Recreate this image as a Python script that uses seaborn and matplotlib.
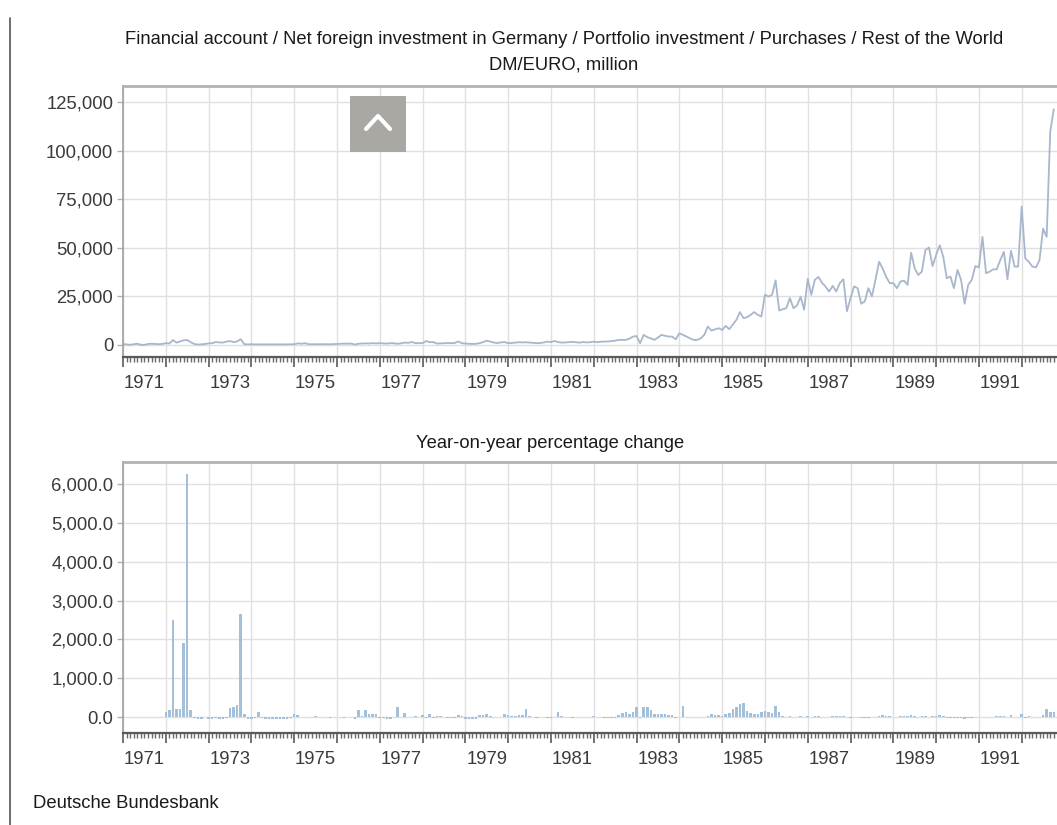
import numpy as np
import pandas as pd
import matplotlib
matplotlib.use("Agg")
import matplotlib.pyplot as plt
import seaborn as sns
from matplotlib.ticker import FuncFormatter, FixedLocator
from matplotlib.lines import Line2D
from matplotlib.patches import Rectangle

# ---------------- data ----------------
title_main = "Financial account / Net foreign investment in Germany / Portfolio investment / Purchases / Rest of the World"
title_unit = "DM/EURO, million"
title_yoy = "Year-on-year percentage change"
source_text = "Deutsche Bundesbank"

level_start_year = 1971   # monthly, from January
purchases = [
    400, 300, 50, 400, 600, 120, 35, 500, 600, 500, 400, 500,                  # 1971
    900, 750, 2500, 1200, 1800, 2400, 2500, 1400, 500, 200, 300, 500,          # 1972
    800, 900, 1500, 1300, 1200, 1700, 2000, 1500, 1800, 3000, 400, 300,        # 1973
    350, 300, 280, 300, 320, 300, 290, 310, 300, 280, 300, 320,                # 1974
    350, 800, 600, 900, 400, 350, 400, 350, 380, 400, 350, 400,                # 1975
    500, 600, 700, 650, 700, 200, 600, 750, 800, 750, 900, 800,                # 1976
    900, 800, 700, 900, 850, 600, 850, 1200, 1100, 1500, 900, 1000,            # 1977
    900, 2000, 1400, 1500, 700, 800, 900, 1000, 900, 1000, 1800, 900,          # 1978
    700, 600, 500, 600, 900, 1500, 2200, 1700, 1200, 1000, 1300, 1500,         # 1979
    900, 1000, 1200, 1400, 1300, 1400, 1200, 1100, 900, 1000, 1300, 1700,     # 1980
    1500, 2000, 1500, 1200, 1300, 1400, 1600, 1400, 1200, 1500, 1300, 1400,   # 1981
    1700, 1400, 1700, 1700, 1800, 2000, 2200, 2600, 2600, 2600, 3200, 4300,   # 1982
    4600, 900, 5200, 4000, 3400, 2600, 3800, 5200, 4700, 4300, 4300, 2900,    # 1983
    6000, 5200, 4300, 3400, 2600, 2600, 3400, 5200, 9500, 7400, 8000, 8600,   # 1984
    7700, 9800, 8100, 10500, 12900, 16900, 13800, 14300, 15500, 16900, 15500, 14600,  # 1985
    25800, 24900, 25800, 33200, 17700, 18400, 18900, 24100, 18900, 20300, 24800, 18100,  # 1986
    34000, 25800, 33500, 35000, 32000, 30000, 27500, 30400, 27500, 31800, 33800, 17300,  # 1987
    24100, 30100, 29200, 21200, 22400, 29200, 25000, 33500, 42800, 39400, 35000, 31800,  # 1988
    31800, 29200, 32600, 33100, 30900, 47400, 39400, 36000, 37700, 48800, 50100, 40600,  # 1989
    46200, 51300, 45400, 34300, 35200, 29200, 38600, 33500, 21200, 30900, 33500, 40600,  # 1990
    39900, 55600, 36900, 37700, 38900, 38900, 43700, 47900, 33800, 48400, 40300, 40300,  # 1991
    71200, 44500, 42800, 40300, 39900, 43700, 59800, 55600, 109700, 121200,              # 1992
]

yoy_start_year = 1972     # monthly, from January
yoy_pct = [
    130, 170, 2500, 200, 200, 1900, 6250, 180, -30, -60, -40, -10,     # 1972
    -40, -50, -30, -60, -40, -20, 220, 270, 300, 2650, 90, -40,        # 1973
    -50, -30, 120, -20, -40, -50, -60, -60, -60, -50, -40, -20,        # 1974
    80, 40, 10, 0, -10, 10, 20, 10, 0, -10, -20, -10,                  # 1975
    -10, 10, -20, 10, 0, -60, 170, 20, 170, 80, 80, 80,                # 1976
    -30, -20, -50, -40, -10, 270, 10, 110, 0, 10, 20, 10,              # 1977
    60, -20, 90, -30, 30, 20, 10, -20, -30, -20, 40, 20,               # 1978
    -40, -50, -50, -40, 40, 60, 70, 30, 10, 0, -10, 90,                # 1979
    40, 30, 30, 40, 60, 200, 30, 0, -20, -10, -10, -20,                # 1980
    -20, 10, 130, 20, 10, -10, -20, 0, 10, -10, 10, -10,               # 1981
    20, 10, -10, -20, -30, -30, -20, 40, 110, 130, 70, 130,            # 1982
    250, -30, 260, 270, 180, 70, 80, 90, 70, 60, 40, -20,              # 1983
    -10, 280, -5, -5, -10, -5, -5, 0, 20, 80, 60, 40,                  # 1984
    30, 70, 100, 200, 250, 330, 350, 150, 100, 90, 90, 140,            # 1985
    150, 140, 100, 280, 130, 20, 10, 30, -10, 10, 20, 10,              # 1986
    20, 0, 30, 20, 10, 10, 0, 20, 20, 30, 20, -10,                     # 1987
    -20, 10, -10, -30, -20, -20, -10, 10, 30, 60, 20, 30,              # 1988
    10, 0, 20, 30, 30, 40, 20, 10, 20, 30, 10, 20,                     # 1989
    30, 50, 30, -20, -20, -30, -20, -30, -40, -30, -20, -10,           # 1990
    -10, 10, -10, 10, 10, 30, 20, 20, 10, 40, 10, 10,                  # 1991
    70, -20, 20, 10, 0, 10, 40, 200, 140, 130,                         # 1992
]

year_labels = [1971, 1973, 1975, 1977, 1979, 1981, 1983, 1985, 1987, 1989, 1991]
level_ticks = [0, 25000, 50000, 75000, 100000, 125000]
yoy_ticks = [0, 1000, 2000, 3000, 4000, 5000, 6000]

# ---------------- frames ----------------
df_level = pd.DataFrame({
    "t": [level_start_year + i / 12 for i in range(len(purchases))],
    "value": purchases,
})
df_yoy = pd.DataFrame({
    "t": [yoy_start_year + i / 12 for i in range(len(yoy_pct))],
    "pct": yoy_pct,
})

# ---------------- style ----------------
sns.set_theme(style="white")
plt.rcParams["font.family"] = ["Liberation Sans", "DejaVu Sans"]

W, H = 1057, 825
fig = plt.figure(figsize=(W / 100, H / 100), dpi=100)

def fx(px):
    return px / W

def fy(py):
    return 1 - py / H

X0, X1 = 1971.0, 1992.825
ax1 = fig.add_axes([fx(123), fy(357), fx(1057) - fx(123), fy(86) - fy(357)])
ax2 = fig.add_axes([fx(123), fy(733), fx(1057) - fx(123), fy(462) - fy(733)])

line_color = "#a8b7cb"
bar_color = "#a4c0d8"
grid_color = "#e0e0e0"
tick_text = "#3a3a3a"
TICK_FS = 13.3
TITLE_FS = 13.2

sns.lineplot(data=df_level, x="t", y="value", ax=ax1, color=line_color,
             linewidth=1.3)
sns.barplot(data=df_yoy, x="t", y="pct", ax=ax2, native_scale=True,
            color=bar_color, saturation=1, width=0.72, errorbar=None,
            linewidth=0)

def style_axes(ax, yticks, ylim, fmt):
    ax.set_xlim(X0, X1)
    ax.set_ylim(*ylim)
    ax.set_xlabel("")
    ax.set_ylabel("")
    ax.yaxis.set_major_locator(FixedLocator(yticks))
    ax.yaxis.set_major_formatter(FuncFormatter(fmt))
    ax.xaxis.set_major_locator(FixedLocator(list(range(1971, 1993))))
    ax.xaxis.set_minor_locator(FixedLocator([1971 + m / 12 for m in range(0, 22 * 12) if m % 12]))
    ax.set_xticklabels([])
    ax.grid(True, which="major", axis="both", color=grid_color, linewidth=1.0)
    ax.set_axisbelow(True)
    for side in ["left", "top", "bottom", "right"]:
        ax.spines[side].set_visible(True)
    ax.spines["right"].set_visible(False)
    ax.spines["left"].set_color("#a0a0a0")
    ax.spines["left"].set_linewidth(1.2)
    ax.spines["top"].set_color("#b5b3ae")
    ax.spines["top"].set_linewidth(2.0)
    ax.spines["bottom"].set_color("#5a5a5a")
    ax.spines["bottom"].set_linewidth(1.6)
    ax.tick_params(axis="y", which="major", direction="out", length=4,
                   color="#b0b0b0", width=1, labelsize=TICK_FS, labelcolor=tick_text, pad=3, left=True)
    ax.tick_params(axis="x", which="major", direction="out", length=7,
                   color="#5a5a5a", width=1.2, bottom=True)
    ax.tick_params(axis="x", which="minor", direction="out", length=3.5,
                   color="#6a6a6a", width=1, bottom=True)
    for yr in year_labels:
        ax.annotate(str(yr), xy=(yr + 0.5, 0), xycoords=("data", "axes fraction"),
                    xytext=(0, -19), textcoords="offset points",
                    ha="center", va="center", fontsize=TICK_FS, color=tick_text,
                    annotation_clip=False)

style_axes(ax1, level_ticks, (-6200, 133200), lambda v, p: f"{int(v):,}")
style_axes(ax2, yoy_ticks, (-412, 6570), lambda v, p: f"{v:,.1f}")

# titles and source
fig.text(fx(564), fy(40), title_main, ha="center", va="center", fontsize=TITLE_FS, color="#1a1a1a")
fig.text(fx(564), fy(65), title_unit, ha="center", va="center", fontsize=TITLE_FS, color="#1a1a1a")
fig.text(fx(550), fy(444), title_yoy, ha="center", va="center", fontsize=TITLE_FS, color="#1a1a1a")
fig.text(fx(33), fy(804), source_text, ha="left", va="center", fontsize=TICK_FS, color="#1a1a1a")

# page border line on the left
fig.add_artist(Line2D([fx(10), fx(10)], [fy(18), fy(825)], color="#555555", linewidth=1.2))

# scroll-to-top button
fig.add_artist(Rectangle((fx(350), fy(152)), fx(56), fy(96) - fy(152),
                         facecolor="#a9a8a3", edgecolor="none", transform=fig.transFigure))
fig.add_artist(Line2D([fx(366), fx(378), fx(390)], [fy(129), fy(116), fy(129)],
                      color="white", linewidth=3, solid_capstyle="round"))

fig.savefig("out.png", dpi=100)
